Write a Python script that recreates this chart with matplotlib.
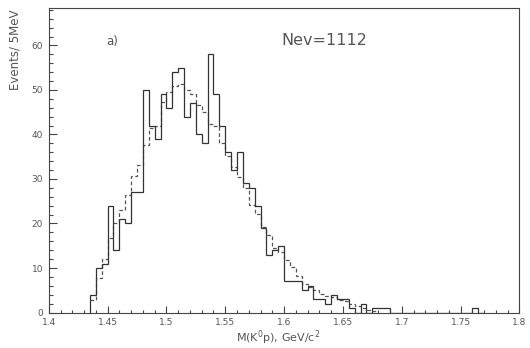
import matplotlib
matplotlib.use("Agg")
import matplotlib.pyplot as plt
import numpy as np
from matplotlib.ticker import MultipleLocator

plt.rcParams['font.family'] = ['DejaVu Sans']

# 5 MeV bins starting at 1.435 GeV
bin_start = 1.435
bin_width = 0.005

# data, events per bin (solid)
solid = [4, 10, 11, 24, 14, 21, 20, 27, 27, 50,
         42, 39, 49, 46, 54, 55, 44, 47, 40, 38,
         58, 49, 42, 36, 32, 36, 29, 28, 24, 19,
         13, 14, 15, 7, 7, 7, 5, 6, 3, 3,
         2, 4, 3, 3, 1, 0, 2, 0, 1, 1,
         1, 0, 0, 0, 0, 0, 0, 0, 0, 0,
         0, 0, 0, 0, 0, 1, 0]

# fit / simulation (dashed)
dashed = [2.8, 7.7, 12.0, 16.7, 20.2, 23.0, 26.4, 30.7, 33.1, 37.6,
          41.4, 42.0, 47.3, 49.6, 50.9, 51.4, 49.9, 49.0, 46.6, 45.0,
          42.4, 41.9, 38.0, 35.1, 32.7, 30.5, 27.9, 24.1, 22.2, 19.3,
          17.4, 14.6, 13.6, 11.7, 10.2, 8.3, 6.5, 5.8, 5.0, 4.2,
          3.7, 3.4, 2.8, 2.5, 1.8, 1.5, 1.1, 0.5, 0.3]

x_ticks = [1.4, 1.45, 1.5, 1.55, 1.6, 1.65, 1.7, 1.75, 1.8]
x_ticklabels = ['1.4', '1.45', '1.5', '1.55', '1.6', '1.65', '1.7', '1.75', '1.8']
y_ticks = [0, 10, 20, 30, 40, 50, 60]

fig = plt.figure(figsize=(5.3, 3.48), dpi=100)
ax = fig.add_axes([0.092, 0.102, 0.888, 0.876])

edges_s = np.round(bin_start + bin_width * np.arange(len(solid) + 1), 4)
edges_d = np.round(bin_start + bin_width * np.arange(len(dashed) + 1), 4)

ax.stairs(dashed, edges_d, color='#555555', lw=0.9, linestyle=(0, (3, 2)), baseline=None)
ax.stairs(solid, edges_s, color='#333333', lw=0.9)

ax.set_xlim(1.4, 1.8)
ax.set_ylim(0, 68.5)
ax.set_xticks(x_ticks)
ax.set_xticklabels(x_ticklabels)
ax.set_yticks(y_ticks)
ax.xaxis.set_minor_locator(MultipleLocator(0.01))
ax.yaxis.set_minor_locator(MultipleLocator(2))

ax.tick_params(which='both', direction='in', colors='#444444', labelcolor='#555555',
               labelsize=6.5, top=False, right=False, width=0.8)
ax.tick_params(axis='x', which='major', length=5, pad=4)
ax.tick_params(axis='x', which='minor', length=2.5)
ax.tick_params(axis='y', which='major', length=6, pad=4)
ax.tick_params(axis='y', which='minor', length=3)
for s in ax.spines.values():
    s.set_color('#444444')
    s.set_linewidth(0.8)

fig.text(0.028, 0.972, 'Events/ 5MeV', rotation=90, ha='center', va='top',
         fontsize=8.5, color='#555555')
fig.text(0.604, 0.031, 'M(K$^0$p), GeV/c$^2$', ha='right', va='center',
         fontsize=8, color='#555555')
ax.text(0.211, 0.88, 'a)', transform=fig.transFigure, ha='center', va='center',
        fontsize=8.5, color='#555555')
ax.text(0.531, 0.885, 'Nev=1112', transform=fig.transFigure, ha='left', va='center',
        fontsize=11.5, color='#555555')

fig.savefig('out.png', dpi=100)
